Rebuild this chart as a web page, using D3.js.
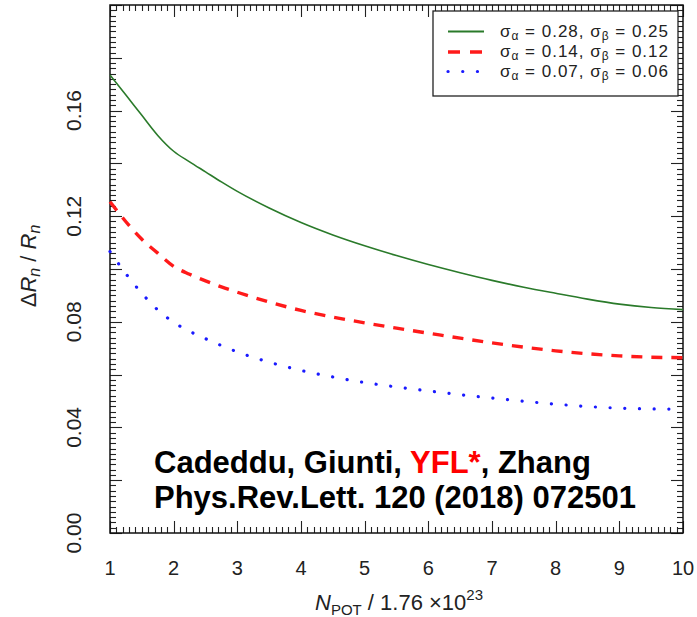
<!DOCTYPE html>
<html>
<head>
<meta charset="utf-8">
<script src="https://cdn.jsdelivr.net/npm/d3@7"></script>
<style>
  html, body { margin: 0; padding: 0; background: #fff; }
  svg { display: block; }
  text { font-family: "Liberation Sans", Arial, Helvetica, sans-serif; }
</style>
</head>
<body>
<svg id="chart" width="697" height="617"></svg>
<script>
// Exposure in units of 1.76e23 protons on target
const nPot = [1, 1.25, 1.5, 1.75, 2, 2.25, 2.5, 2.75, 3, 3.5, 4, 4.5, 5, 5.5, 6, 6.5, 7, 7.5, 8, 8.5, 9, 9.5, 10];

// Relative uncertainty on the neutron radius for three systematic scenarios
const relErrLarge  = [0.1735, 0.1659, 0.1582, 0.1506, 0.1446, 0.1406, 0.1368, 0.1330, 0.1294, 0.1231, 0.1176, 0.1129,
                      0.1088, 0.1051, 0.1017, 0.0986, 0.0957, 0.0931, 0.0908, 0.0886, 0.0867, 0.0854, 0.0846];
const relErrMedium = [0.1255, 0.1179, 0.1113, 0.1060, 0.1010, 0.0980, 0.0955, 0.0932, 0.0912, 0.0875, 0.0843, 0.0818,
                      0.0796, 0.0776, 0.0757, 0.0738, 0.0720, 0.0704, 0.0690, 0.0679, 0.0671, 0.0666, 0.0664];
const relErrSmall  = [0.1066, 0.0982, 0.0908, 0.0845, 0.0798, 0.0764, 0.0736, 0.0710, 0.0686, 0.0647, 0.0616, 0.0591,
                      0.0570, 0.0553, 0.0538, 0.0524, 0.0511, 0.0499, 0.0488, 0.0479, 0.0473, 0.0470, 0.0469];

const legendAlpha = ["0.28", "0.14", "0.07"];
const legendBeta  = ["0.25", "0.12", "0.06"];

const xTicks = [1, 2, 3, 4, 5, 6, 7, 8, 9, 10];
const yTickLabels = [0.00, 0.04, 0.08, 0.12, 0.16];

const series = [
  { values: relErrLarge,  color: "#2a7a2a", width: 1.6, dash: null,       cap: "butt"  },
  { values: relErrMedium, color: "#ff1a1a", width: 3.4, dash: "11 9",     cap: "butt"  },
  { values: relErrSmall,  color: "#1a1aff", width: 3.2, dash: "0.1 14.6", cap: "round" }
];

const svg = d3.select("#chart");
const frame = { left: 110, right: 683, top: 5, bottom: 533 };

const x = d3.scaleLinear().domain([1, 10]).range([frame.left, frame.right]);
const y = d3.scaleLinear().domain([0, 0.2]).range([frame.bottom, frame.top]);

const xMinor = d3.range(10, 101).map(d => d / 10);
const yMinor = d3.range(0, 101).map(d => d * 0.002);
const isMajorX = v => Math.abs(v - Math.round(v)) < 1e-6;
const isMajorY = v => Math.abs(v / 0.02 - Math.round(v / 0.02)) < 1e-6;
const MAJOR = 12, MINOR = 6;

// inward-pointing ticks on all four sides of the frame
const ticks = svg.append("g").attr("stroke", "#222").attr("stroke-width", 1.1);
[frame.bottom, frame.top].forEach(edge => {
  const dir = edge === frame.bottom ? -1 : 1;
  ticks.append("g").selectAll("line").data(xMinor).join("line")
    .attr("x1", d => Math.round(x(d)) + 0.5).attr("x2", d => Math.round(x(d)) + 0.5)
    .attr("y1", edge).attr("y2", d => edge + dir * (isMajorX(d) ? MAJOR : MINOR));
});
[frame.left, frame.right].forEach(edge => {
  const dir = edge === frame.left ? 1 : -1;
  ticks.append("g").selectAll("line").data(yMinor).join("line")
    .attr("y1", d => Math.round(y(d)) + 0.5).attr("y2", d => Math.round(y(d)) + 0.5)
    .attr("x1", edge).attr("x2", d => edge + dir * (isMajorY(d) ? MAJOR : MINOR));
});

// frame
svg.append("rect")
  .attr("x", frame.left).attr("y", frame.top)
  .attr("width", frame.right - frame.left).attr("height", frame.bottom - frame.top)
  .attr("fill", "none").attr("stroke", "#111").attr("stroke-width", 1.5);

// tick labels
svg.append("g").selectAll("text").data(xTicks).join("text")
  .attr("x", d => x(d)).attr("y", 575)
  .attr("text-anchor", "middle")
  .attr("font-size", 20).attr("fill", "#222")
  .text(d => d);

svg.append("g").selectAll("text").data(yTickLabels).join("text")
  .attr("transform", d => `translate(81,${y(d)}) rotate(-90)`)
  .attr("text-anchor", "middle")
  .attr("font-size", 21).attr("fill", "#222")
  .text(d => d.toFixed(2));

// axis titles
const xt = svg.append("text")
  .attr("x", 399).attr("y", 610)
  .attr("text-anchor", "middle").attr("font-size", 22).attr("fill", "#222");
xt.append("tspan").attr("font-style", "italic").text("N");
xt.append("tspan").attr("font-size", 15).attr("dy", 5).text("POT");
xt.append("tspan").attr("dy", -5).text(" / 1.76 \u00d7" + "10");
xt.append("tspan").attr("font-size", 15).attr("dy", -10).text("23");

const yt = svg.append("text")
  .attr("transform", "translate(36,266) rotate(-90)")
  .attr("text-anchor", "middle").attr("font-size", 22).attr("fill", "#222");
yt.append("tspan").text("\u0394");
yt.append("tspan").attr("font-style", "italic").text("R");
yt.append("tspan").attr("font-style", "italic").attr("font-size", 16).attr("dy", 4).text("n");
yt.append("tspan").attr("dy", -4).text(" / ");
yt.append("tspan").attr("font-style", "italic").text("R");
yt.append("tspan").attr("font-style", "italic").attr("font-size", 16).attr("dy", 4).text("n");

// curves
const line = d3.line().x((d, i) => x(nPot[i])).y(d => y(d)).curve(d3.curveMonotoneX);
const plot = svg.append("g");
series.forEach(s => {
  plot.append("path")
    .attr("d", line(s.values))
    .attr("fill", "none")
    .attr("stroke", s.color)
    .attr("stroke-width", s.width)
    .attr("stroke-linecap", s.cap)
    .attr("stroke-dasharray", s.dash);
});

// legend
const lg = svg.append("g");
lg.append("rect").attr("x", 433).attr("y", 11).attr("width", 245).attr("height", 85)
  .attr("fill", "#fff").attr("stroke", "#222").attr("stroke-width", 1.3);
const rowY = [31.5, 52, 71.5];
series.forEach((s, i) => {
  lg.append("line")
    .attr("x1", 448).attr("x2", 484).attr("y1", rowY[i]).attr("y2", rowY[i])
    .attr("stroke", s.color).attr("stroke-width", i === 0 ? 2.2 : s.width)
    .attr("stroke-linecap", s.cap)
    .attr("stroke-dasharray", i === 1 ? "12 10" : (i === 2 ? "0.1 14.6" : null));
  const t = lg.append("text").attr("x", 500).attr("y", rowY[i] + 5)
    .attr("font-size", 17).attr("fill", "#222")
    .attr("textLength", 168).attr("lengthAdjust", "spacing");
  t.append("tspan").text("\u03c3");
  t.append("tspan").attr("font-size", 12).attr("dy", 3).text("\u03b1");
  t.append("tspan").attr("dy", -3).text(" = " + legendAlpha[i] + ", \u03c3");
  t.append("tspan").attr("font-size", 12).attr("dy", 3).text("\u03b2");
  t.append("tspan").attr("dy", -3).text(" = " + legendBeta[i]);
});

// citation
const note = svg.append("g").attr("font-weight", "bold").attr("font-size", 31).attr("fill", "#000");
const l1 = note.append("text").attr("x", 154).attr("y", 473);
l1.append("tspan").text("Cadeddu, Giunti, ");
l1.append("tspan").attr("fill", "#ff0000").text("YFL*");
l1.append("tspan").text(", Zhang");
note.append("text").attr("x", 154).attr("y", 508).text("Phys.Rev.Lett. 120 (2018) 072501");
</script>
</body>
</html>
